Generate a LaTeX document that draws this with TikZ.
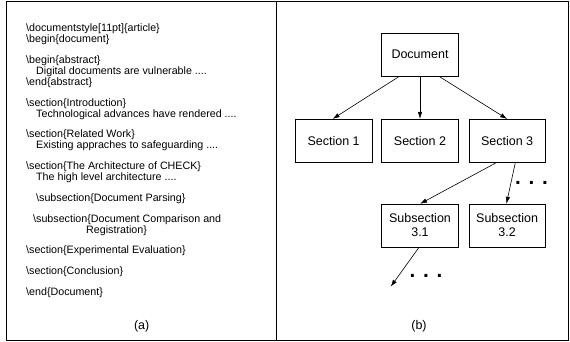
\documentclass[tikz,border=0pt]{standalone}
\usepackage{fontspec}
\setmainfont{Liberation Sans}
\usepackage{tikz}
\usetikzlibrary{arrows.meta,positioning}
\newcommand{\bs}{\textbackslash}

\begin{document}
\begin{tikzpicture}[x=1pt, y=-1pt,
  box/.style={draw, line width=0.6pt, minimum width=76.5pt,
    minimum height=42.7pt, inner sep=0pt, align=center,
    font=\fontsize{12.5}{14}\selectfont},
  arr/.style={-{Latex[length=7pt,width=4.5pt]}, line width=0.6pt},
  code/.style={anchor=base west, inner sep=0pt,
    font=\fontsize{10.7}{11}\selectfont},
  caption/.style={font=\fontsize{12.5}{14}\selectfont},
  more/.style={anchor=base, inner sep=0pt,
    font=\bfseries\fontsize{20.7}{20}\selectfont},
  frame/.style={draw, line width=0.8pt}
]
\useasboundingbox (0,0) rectangle (570,342);
\draw[frame] (6,1.5) rectangle (568.5,340);
\draw[frame] (276,1.5) -- (276,340);

% (a) source text
\node[code] (docstyle) at (26,31.8) {\bs documentstyle[11pt]\{article\}};
\node[code] (begindoc) at (26,42.8) {\bs begin\{document\}};
\node[code] (beginabs) at (26,63.5) {\bs begin\{abstract\}};
\node[code] (abstxt) at (36,74.5) {Digital documents are vulnerable ....};
\node[code] (endabs) at (26,85.5) {\bs end\{abstract\}};
\node[code] (secintro) at (26,106.2) {\bs section\{Introduction\}};
\node[code] (introtxt) at (36,117.2) {Technological advances have rendered ....};
\node[code] (secrel) at (26,137.9) {\bs section\{Related Work\}};
\node[code] (reltxt) at (36,148.9) {Existing appraches to safeguarding ....};
\node[code] (secarch) at (26,169.6) {\bs section\{The Architecture of CHECK\}};
\node[code] (archtxt) at (36,180.6) {The high level architecture ....};
\node[code] (subparse) at (36,201.3) {\bs subsection\{Document Parsing\}};
\node[code] (subcomp) at (33,222) {\bs subsection\{Document Comparison and};
\node[code] (subcompb) at (86,233) {Registration\}};
\node[code] (secexp) at (26,253.7) {\bs section\{Experimental Evaluation\}};
\node[code] (secconc) at (26,274.4) {\bs section\{Conclusion\}};
\node[code] (enddoc) at (26,295.1) {\bs end\{Document\}};
\node[caption] (capa) at (141.7,326) {(a)};

% (b) document tree
\node[box] (doc) at (420,54.7) {Document};
\node[box, below=42.6pt of doc] (sec2) {Section 2};
\node[box, left=9.3pt of sec2] (sec1) {Section 1};
\node[box, right=10pt of sec2] (sec3) {Section 3};
\node[box, below=41.6pt of sec2] (sub31) {Subsection\\3.1};
\node[box, below=41.6pt of sec3] (sub32) {Subsection\\3.2};
\coordinate (sub31end) at (390.7,286.7);
\node[more] (more3) at (531.5,184.5) {. . .};
\node[more] (more31) at (426,277.5) {. . .};
\node[caption] (capb) at (419,326) {(b)};

\draw[arr] ([xshift=-20.7pt]doc.south) -- ([xshift=-1pt]sec1.north);
\draw[arr] (doc.south) -- (sec2.north);
\draw[arr] ([xshift=19pt]doc.south) -- (sec3.north);
\draw[arr] ([xshift=-10pt]sec3.south) -- (sub31.north);
\draw[arr] ([xshift=8.3pt]sec3.south) -- ([xshift=-0.7pt]sub32.north);
\draw[arr] ([xshift=-0.9pt]sub31.south) -- (sub31end);
\end{tikzpicture}
\end{document}
